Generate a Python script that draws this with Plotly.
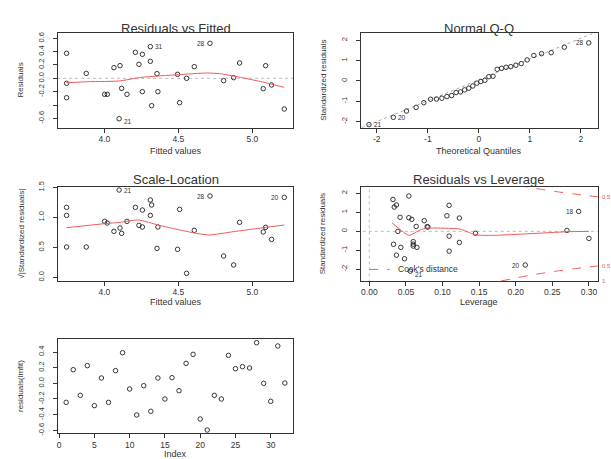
import plotly.graph_objects as go

# ---------------- data ----------------
fitted = [3.745, 3.745, 3.745, 3.878, 4.002, 4.020, 4.065, 4.106, 4.100, 4.117,
          4.153, 4.210, 4.234, 4.257, 4.257, 4.311, 4.311, 4.320, 4.356, 4.362,
          4.495, 4.509, 4.556, 4.608, 4.714, 4.806, 4.874, 4.914, 5.074, 5.090,
          5.130, 5.216]
resid_fit = [0.375, -0.075, -0.29, 0.075, -0.24, -0.24, 0.16, 0.19, -0.605, -0.15,
             -0.24, 0.39, 0.21, 0.36, -0.20, 0.255, 0.475, -0.41, 0.07, -0.20,
             0.06, -0.365, 0.0, 0.175, 0.525, -0.035, 0.01, 0.23, -0.155, 0.19,
             -0.10, -0.46]
sqrt_std = [1.167, 0.506, 1.033, 0.506, 0.933, 0.906, 0.767, 0.822, 1.456, 0.733,
            0.933, 1.167, 0.867, 1.122, 0.839, 1.033, 1.289, 1.206, 0.483, 0.839,
            0.467, 1.133, 0.067, 0.783, 1.356, 0.356, 0.206, 0.917, 0.756, 0.833,
            0.633, 1.333]

rf_smooth_x = [3.745, 3.9, 4.1, 4.25, 4.5, 4.69, 4.78, 4.92, 5.07, 5.216]
rf_smooth_y = [-0.065, -0.05, -0.04, 0.015, 0.055, 0.08, 0.07, 0.015, -0.055, -0.135]

sl_smooth_x = [3.745, 4.0, 4.106, 4.23, 4.365, 4.511, 4.624, 4.709, 4.872, 5.074, 5.216]
sl_smooth_y = [0.828, 0.894, 0.917, 0.956, 0.872, 0.789, 0.733, 0.706, 0.761, 0.828, 0.872]

qq_theor = [-2.154, -1.676, -1.418, -1.230, -1.078, -0.947, -0.831, -0.725, -0.626, -0.534,
            -0.445, -0.360, -0.278, -0.197, -0.118, -0.039, 0.039, 0.118, 0.197, 0.278,
            0.360, 0.445, 0.534, 0.626, 0.725, 0.831, 0.947, 1.078, 1.230, 1.418,
            1.676, 2.154]
qq_std = [-2.15, -1.79, -1.48, -1.30, -1.07, -0.90, -0.89, -0.85, -0.77, -0.72,
          -0.57, -0.54, -0.44, -0.36, -0.25, -0.11, -0.03, 0.03, 0.21, 0.23,
          0.57, 0.62, 0.67, 0.70, 0.77, 0.85, 1.03, 1.25, 1.34, 1.39,
          1.66, 1.87]
qq_line_x = [-2.4, 2.4]
qq_line_y = [-2.406, 2.507]

lev_h = [0.0323, 0.034, 0.037, 0.037, 0.033, 0.039, 0.042, 0.043, 0.048, 0.054,
         0.054, 0.058, 0.056, 0.060, 0.060, 0.060, 0.065, 0.064, 0.075, 0.079,
         0.080, 0.106, 0.109, 0.109, 0.109, 0.123, 0.123, 0.145, 0.213, 0.270,
         0.286, 0.300]
lev_sr = [1.68, 1.28, 1.39, -1.25, -0.68, 0.0, 0.74, -0.84, -1.44, 1.86,
          0.72, 0.63, -2.09, -0.54, -0.67, -0.77, -0.84, 0.26, 0.56, 0.25,
          0.23, 0.82, 1.37, -0.25, -1.04, 0.70, -0.58, -0.10, -1.77, 0.05,
          1.05, -0.37]
lev_smooth_x = [0.031, 0.054, 0.069, 0.078, 0.124, 0.14, 0.15, 0.17, 0.22, 0.27, 0.30]
lev_smooth_y = [0.45, -0.21, 0.07, 0.17, 0.12, -0.12, -0.20, -0.21, -0.12, -0.02, 0.0]

cook05_h = [0.18, 0.20, 0.22, 0.24, 0.26, 0.28, 0.30, 0.32]
cook05_sr = [2.614, 2.449, 2.306, 2.179, 2.066, 1.964, 1.871, 1.785]
cook1_h = [0.29, 0.30, 0.32]
cook1_sr = [2.709, 2.646, 2.525]

index = list(range(1, 33))
resid_idx = [-0.243, 0.174, -0.153, 0.226, -0.285, 0.068, -0.243, 0.162, 0.391, -0.072,
             -0.404, -0.030, -0.357, 0.068, -0.200, 0.072, -0.094, 0.255, 0.370, -0.455,
             -0.596, -0.153, -0.200, 0.357, 0.187, 0.213, 0.196, 0.519, 0.000, -0.230,
             0.477, 0.004]

# ---------------- figure ----------------
W, H = 611, 459
FONT = "Liberation Sans, Arial, sans-serif"
NARROW = "Liberation Sans Narrow, Liberation Sans, Arial, sans-serif"
INK = "#333333"
RED = "#f05a5a"

def px_x(p):
    return p / W

def px_y(p):
    return 1 - p / H

fig = go.Figure()

marker = dict(symbol="circle-open", size=4.5, color="#222222", line=dict(width=0.9))

def pts(x, y, ax):
    fig.add_trace(go.Scatter(x=x, y=y, mode="markers", marker=marker,
                             xaxis="x" + ax, yaxis="y" + ax, hoverinfo="skip"))

def line(x, y, ax, color, dash="solid", width=1, shape="spline"):
    fig.add_trace(go.Scatter(x=x, y=y, mode="lines",
                             line=dict(color=color, dash=dash, width=width, shape=shape, smoothing=0.5),
                             xaxis="x" + ax, yaxis="y" + ax, hoverinfo="skip"))

# Panel 1: residuals vs fitted
line([3.6, 5.4], [0, 0], "", "#bbbbbb", "dot", shape="linear")
pts(fitted, resid_fit, "")
line(rf_smooth_x, rf_smooth_y, "", RED)
# Panel 2: QQ
line(qq_line_x, qq_line_y, "2", "#aaaaaa", "dot", shape="linear")
pts(qq_theor, qq_std, "2")
# Panel 3: scale-location
pts(fitted, sqrt_std, "3")
line(sl_smooth_x, sl_smooth_y, "3", RED)
# Panel 4: leverage
line([-0.05, 0.35], [0, 0], "4", "#bbbbbb", "dot", shape="linear")
line([0, 0], [-3, 3], "4", "#bbbbbb", "dot", shape="linear")
pts(lev_h, lev_sr, "4")
line(lev_smooth_x, lev_smooth_y, "4", RED)
line(cook05_h, cook05_sr, "4", RED, "dash")
line(cook05_h, [-v for v in cook05_sr], "4", RED, "dash")
line(cook1_h, [-v for v in cook1_sr], "4", RED, "dash")
line([0.0, 0.028], [-2.0, -2.0], "4", RED, "dash", shape="linear")
# Panel 5: index plot
pts(index, resid_idx, "5")

def xax(dom, anchor, rng, tv, tt):
    return dict(domain=dom, anchor=anchor, range=rng, tickvals=tv, ticktext=tt,
                showline=True, mirror=True, linecolor=INK, linewidth=1,
                ticks="outside", ticklen=4, tickcolor=INK, showgrid=False, zeroline=False,
                tickfont=dict(family=FONT, size=8.5, color=INK), ticklabelstandoff=-1,
                automargin=False, fixedrange=True)

def yax(dom, anchor, rng, tv, tt):
    d = xax(dom, anchor, rng, tv, tt)
    d["tickangle"] = -90
    d["ticklabelstandoff"] = 6
    d["tickfont"] = dict(family=NARROW, size=7.5, color=INK)
    return d

colL = [px_x(57.7), px_x(293.3)]
colR = [px_x(361), px_x(597.7)]
row1 = [px_y(127.7), px_y(33.3)]
row2 = [px_y(281), px_y(186.7)]
row3 = [px_y(433.3), px_y(339)]

fig.update_layout(
    width=W, height=H, margin=dict(l=0, r=0, t=0, b=0, pad=0),
    paper_bgcolor="white", plot_bgcolor="white", showlegend=False,
    xaxis=xax(colL, "y", [3.685, 5.277], [4.0, 4.5, 5.0], ["4.0", "4.5", "5.0"]),
    yaxis=yax(row1, "x", [-0.74, 0.675], [-0.6, -0.4, -0.2, 0, 0.2, 0.4, 0.6],
              ["-0.6", "", "-0.2", "0.0", "0.2", "0.4", "0.6"]),
    xaxis2=xax(colR, "y2", [-2.31, 2.33], [-2, -1, 0, 1, 2], ["-2", "-1", "0", "1", "2"]),
    yaxis2=yax(row1, "x2", [-2.30, 2.34], [-2, -1, 0, 1, 2], ["-2", "-1", "0", "1", "2"]),
    xaxis3=xax(colL, "y3", [3.685, 5.277], [4.0, 4.5, 5.0], ["4.0", "4.5", "5.0"]),
    yaxis3=yax(row2, "x3", [-0.061, 1.511], [0, 0.5, 1.0, 1.5], ["0.0", "0.5", "1.0", "1.5"]),
    xaxis4=xax(colR, "y4", [-0.0114, 0.312], [0, 0.05, 0.1, 0.15, 0.2, 0.25, 0.3],
               ["0.00", "0.05", "0.10", "0.15", "0.20", "0.25", "0.30"]),
    yaxis4=yax(row2, "x4", [-2.61, 2.35], [-2, -1, 0, 1, 2], ["-2", "-1", "0", "1", "2"]),
    xaxis5=xax(colL, "y5", [-0.2, 33.2], [0, 5, 10, 15, 20, 25, 30],
               ["0", "5", "10", "15", "20", "25", "30"]),
    yaxis5=yax(row3, "x5", [-0.638, 0.566], [-0.6, -0.4, -0.2, 0, 0.2, 0.4],
               ["-0.6", "-0.4", "-0.2", "0.0", "0.2", "0.4"]),
)

ann = []

def text(x, y, s, size=8, color=INK, angle=0, xanchor="center", yanchor="middle", family=FONT):
    ann.append(dict(x=x, y=y, xref="paper", yref="paper", text=s, showarrow=False,
                    font=dict(family=family, size=size, color=color), textangle=angle,
                    xanchor=xanchor, yanchor=yanchor))

def dtext(x, y, s, ax, xanchor, size=6.5, color=INK, yshift=0):
    ann.append(dict(x=x, y=y, xref="x" + ax, yref="y" + ax, text=s, showarrow=False,
                    font=dict(family=FONT, size=size, color=color),
                    xanchor=xanchor, yanchor="middle", xshift=3 if xanchor == "left" else -3,
                    yshift=yshift))

cL = (57.7 + 293.3) / 2
cR = (361 + 597.7) / 2
# titles
text(px_x(cL), px_y(28), "Residuals vs Fitted", size=13)
text(px_x(cR), px_y(28), "Normal Q-Q", size=13)
text(px_x(cL), px_y(180), "Scale-Location", size=13)
text(px_x(cR), px_y(180), "Residuals vs Leverage", size=13)
# axis titles
text(px_x(cL), px_y(151), "Fitted values", size=9)
text(px_x(cR), px_y(151), "Theoretical Quantiles", size=9)
text(px_x(cL), px_y(302.3), "Fitted values", size=9)
text(px_x(cR), px_y(302.3), "Leverage", size=9)
text(px_x(cL), px_y(453.5), "Index", size=9)
text(px_x(20), px_y(80.5), "Residuals", angle=-90, family=NARROW)
text(px_x(323.3), px_y(80.5), "Standardized residuals", angle=-90, family=NARROW)
text(px_x(21.7), px_y(234), "\u221a|Standardized residuals|", angle=-90, family=NARROW)
text(px_x(323.3), px_y(234), "Standardized residuals", angle=-90, family=NARROW)
text(px_x(20), px_y(386), "residuals(lmfit)", angle=-90, family=NARROW)

# point ids
dtext(4.100, -0.605, "21", "", "left", yshift=-3)
dtext(4.311, 0.475, "31", "", "left")
dtext(4.714, 0.525, "28", "", "right")
dtext(-2.154, -2.15, "21", "2", "left")
dtext(-1.676, -1.79, "20", "2", "left")
dtext(2.154, 1.87, "28", "2", "right")
dtext(4.100, 1.456, "21", "3", "left")
dtext(4.714, 1.356, "28", "3", "right")
dtext(5.216, 1.333, "20", "3", "right")
dtext(0.056, -2.09, "21", "4", "left", yshift=-3)
dtext(0.213, -1.77, "20", "4", "right")
dtext(0.286, 1.05, "18", "4", "right")
# cook's distance legend and labels
ann.append(dict(x=0.037, y=-2.0, xref="x4", yref="y4", text="Cook's distance", showarrow=False,
                font=dict(family=FONT, size=8.5, color=INK), xanchor="left", yanchor="middle"))
text(px_x(599.5), px_y(196.7), "0.5", size=6, color=RED, xanchor="left")
text(px_x(599.5), px_y(265.7), "0.5", size=6, color=RED, xanchor="left")
text(px_x(600), px_y(281), "1", size=6, color=RED, xanchor="left")

fig.update_layout(annotations=ann)
fig.write_html("out.html", config={"displayModeBar": False},
               post_script="document.body.style.margin='0';document.body.style.padding='0';")
